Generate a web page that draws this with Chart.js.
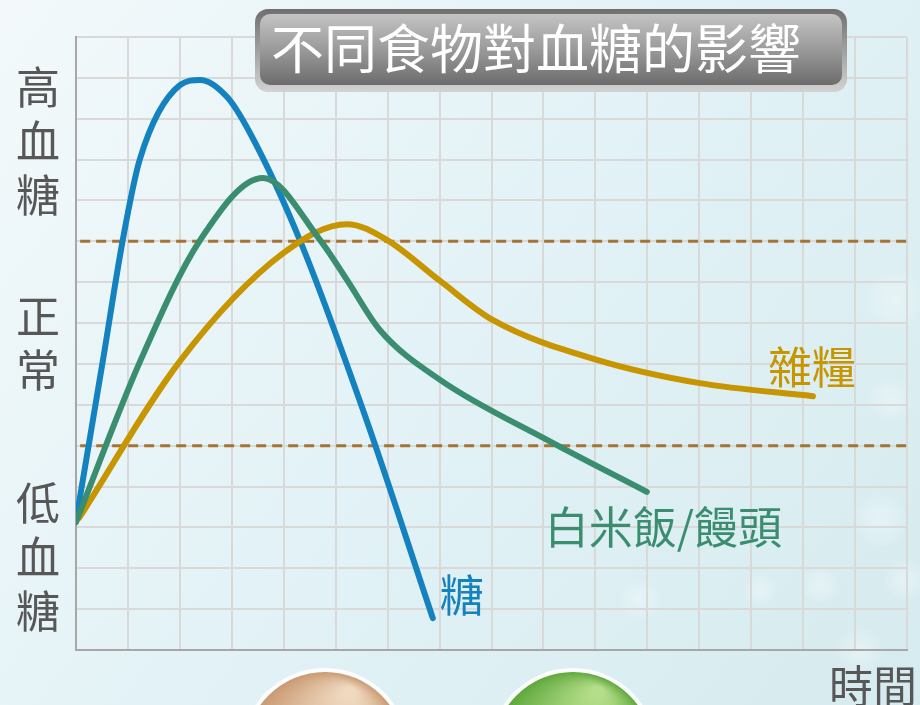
<!DOCTYPE html>
<html>
<head>
<meta charset="utf-8">
<title>不同食物對血糖的影響</title>
<script src="https://cdn.jsdelivr.net/npm/chart.js@4/dist/chart.umd.min.js"></script>
<style>
  html, body { margin: 0; padding: 0; background: #e3f1f5; }
  #wrap { width: 920px; height: 705px; position: relative; }
</style>
</head>
<body>
<div id="wrap"><canvas id="grafico" width="920" height="705"></canvas></div>
<script>
// ---- dados ----
const titulo = '不同食物對血糖的影響';
const rotuloTempo = '時間';

// nível de glicose (0 = base, 15 = topo) ao longo do tempo (0..16)
const tempoAcucar = [0, 0.52, 0.90, 1.23, 2.00, 2.39, 2.91, 3.35, 4.31, 5.56, 6.87];
const glicoseAcucar = [3.16, 7.10, 10.03, 12.01, 13.82, 13.95, 13.53, 12.65, 10.03, 5.75, 0.78];

const tempoArroz = [0, 1.23, 2.39, 3.60, 4.70, 5.22, 5.85, 7.01, 9.07, 10.99];
const glicoseArroz = [3.13, 7.05, 10.03, 11.55, 10.03, 9.05, 7.83, 6.61, 5.14, 3.87];

const tempoGraos = [0.06, 2.02, 3.99, 5.22, 5.99, 7.01, 8.03, 10.03, 12.01, 14.19];
const glicoseGraos = [3.23, 7.10, 9.71, 10.42, 10.03, 9.03, 8.07, 7.10, 6.53, 6.21];

const nomesSeries = ['糖', '白米飯/饅頭', '雜糧'];
const coresSeries = ['#1482be', '#3a8d6f', '#c79500'];

// faixa normal
const limiteAlto = 10;
const limiteBaixo = 5;

// rótulos do eixo vertical (texto, nível central)
const faixasTexto = ['高血糖', '正常', '低血糖'];
const faixasNivel = [12.45, 7.5, 2.27];

const fonte = '"Noto Sans CJK TC", "Noto Sans CJK SC", "Noto Sans", sans-serif';

function pontos(xs, ys) {
  return xs.map((x, i) => ({ x, y: ys[i] }));
}

// ---- fundo: degradê, bolhas e esferas ----
const fundoPlugin = {
  id: 'fundo',
  beforeDraw(chart) {
    const { ctx, width, height } = chart;
    ctx.save();
    const g = ctx.createLinearGradient(0, 0, width, height);
    g.addColorStop(0, '#f3f9fb');
    g.addColorStop(0.5, '#e2f2f6');
    g.addColorStop(1, '#d6ebef');
    ctx.fillStyle = g;
    ctx.fillRect(0, 0, width, height);

    // bolhas claras à direita
    const bolhas = [[895, 300, 30], [890, 400, 22], [880, 520, 26], [905, 580, 20], [820, 585, 18], [760, 590, 16], [640, 600, 20], [860, 650, 22]];
    bolhas.forEach(([x, y, r]) => {
      const rg = ctx.createRadialGradient(x, y, 0, x, y, r);
      rg.addColorStop(0, 'rgba(255,255,255,0.35)');
      rg.addColorStop(1, 'rgba(255,255,255,0.05)');
      ctx.fillStyle = rg;
      ctx.beginPath(); ctx.arc(x, y, r, 0, Math.PI * 2); ctx.fill();
    });

    // esferas no rodapé
    const esferas = [[325, 752, 80, '#f0d9c0', '#c99a72'], [573, 752, 80, '#b5de8a', '#5fa83c']];
    esferas.forEach(([x, y, r, claro, escuro]) => {
      ctx.fillStyle = 'rgba(255,255,255,0.9)';
      ctx.beginPath(); ctx.arc(x, y, r + 4, 0, Math.PI * 2); ctx.fill();
      const sg = ctx.createRadialGradient(x + 25, y - 60, 5, x, y, r);
      sg.addColorStop(0, claro);
      sg.addColorStop(1, escuro);
      ctx.fillStyle = sg;
      ctx.beginPath(); ctx.arc(x, y, r, 0, Math.PI * 2); ctx.fill();
    });
    ctx.restore();
  }
};

// ---- textos: título, faixas, nomes das curvas ----
const textosPlugin = {
  id: 'textos',
  afterDraw(chart) {
    const { ctx } = chart;
    const sx = chart.scales.x, sy = chart.scales.y;
    ctx.save();

    // faixas do eixo vertical, um caractere por linha
    ctx.fillStyle = '#575757';
    ctx.font = '44px ' + fonte;
    ctx.textAlign = 'center';
    ctx.textBaseline = 'middle';
    faixasTexto.forEach((t, i) => {
      const chars = Array.from(t);
      const yc = sy.getPixelForValue(faixasNivel[i]);
      const passo = 54;
      chars.forEach((c, j) => {
        ctx.fillText(c, 38, yc + (j - (chars.length - 1) / 2) * passo);
      });
    });

    // eixo do tempo
    ctx.textAlign = 'right';
    ctx.fillText(rotuloTempo, 917, 686);

    // nomes junto ao fim de cada curva
    const fins = [
      [tempoAcucar, glicoseAcucar, 7, 23],
      [tempoArroz, glicoseArroz, -102, -35],
      [tempoGraos, glicoseGraos, -45, 29]
    ];
    fins.forEach(([xs, ys, dx, dy], i) => {
      const n = xs.length - 1;
      const px = sx.getPixelForValue(xs[n]);
      const py = sy.getPixelForValue(ys[n]);
      ctx.fillStyle = coresSeries[i];
      ctx.font = '44px ' + fonte;
      ctx.textAlign = 'left';
      ctx.fillText(nomesSeries[i], px + dx, py - dy);
    });

    // caixa do título
    const bx = 255, by = 9, bw = 592, bh = 83;
    ctx.beginPath();
    ctx.roundRect(bx, by, bw, bh, 13);
    const borda = ctx.createLinearGradient(0, by, 0, by + bh);
    borda.addColorStop(0, '#6f6f6f');
    borda.addColorStop(1, '#d2d2d2');
    ctx.fillStyle = borda;
    ctx.fill();
    ctx.beginPath();
    ctx.roundRect(bx + 5, by + 5, bw - 10, bh - 12, 10);
    const miolo = ctx.createLinearGradient(0, by + 5, 0, by + bh - 7);
    miolo.addColorStop(0, '#c4c4c4');
    miolo.addColorStop(0.5, '#9a9a9a');
    miolo.addColorStop(1, '#6c6c6c');
    ctx.fillStyle = miolo;
    ctx.fill();
    ctx.fillStyle = '#ffffff';
    ctx.font = '53px ' + fonte;
    ctx.textAlign = 'center';
    ctx.textBaseline = 'middle';
    ctx.fillText(titulo, 536, by + bh / 2 - 2);
    ctx.restore();
  }
};

const tracejado = (y) => ({
  data: [{ x: 0.08, y }, { x: 16, y }],
  borderColor: '#a8722f',
  borderWidth: 3,
  borderDash: [10, 6],
  pointRadius: 0,
  order: 10
});

const curva = (xs, ys, i, ordem) => ({
  label: nomesSeries[i],
  data: pontos(xs, ys),
  borderColor: coresSeries[i],
  borderWidth: 6,
  borderCapStyle: 'round',
  borderJoinStyle: 'round',
  cubicInterpolationMode: 'monotone',
  pointRadius: 0,
  order: ordem
});

new Chart(document.getElementById('grafico'), {
  type: 'line',
  data: {
    datasets: [
      tracejado(limiteAlto),
      tracejado(limiteBaixo),
      curva(tempoAcucar, glicoseAcucar, 0, 3),
      curva(tempoArroz, glicoseArroz, 1, 1),
      curva(tempoGraos, glicoseGraos, 2, 2)
    ]
  },
  options: {
    responsive: false,
    animation: false,
    events: [],
    layout: { padding: { left: 76, right: 13, top: 37, bottom: 55 } },
    plugins: { legend: { display: false }, tooltip: { enabled: false } },
    scales: {
      x: {
        type: 'linear', min: 0, max: 16,
        ticks: { display: false, stepSize: 1 },
        grid: { color: '#d9d9d9', lineWidth: 2, drawTicks: false },
        border: { color: '#a7a7a7', width: 2 }
      },
      y: {
        type: 'linear', min: 0, max: 15,
        ticks: { display: false, stepSize: 1 },
        grid: { color: '#d9d9d9', lineWidth: 2, drawTicks: false },
        border: { color: '#a7a7a7', width: 2 }
      }
    }
  },
  plugins: [fundoPlugin, textosPlugin]
});
</script>
</body>
</html>
